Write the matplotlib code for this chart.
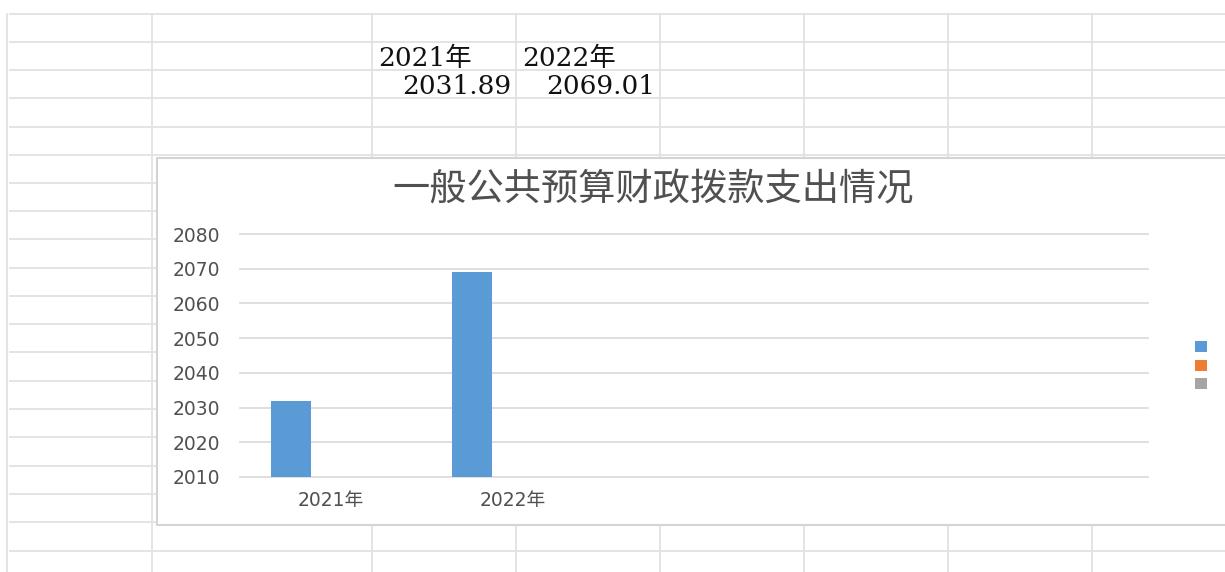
import numpy as np
import matplotlib
matplotlib.use('Agg')
import matplotlib.pyplot as plt
from matplotlib.patches import Rectangle, Patch
from matplotlib.lines import Line2D

# ---------------- data ----------------
categories = ['2021年', '2022年', '', '', '']
series1 = [2031.89, 2069.01, np.nan, np.nan, np.nan]
series2 = [np.nan, np.nan, np.nan, np.nan, np.nan]
series3 = [np.nan, np.nan, np.nan, np.nan, np.nan]
series_colors = ['#5B9BD5', '#ED7D31', '#A5A5A5']
legend_labels = ['', '', '']
yticks = [2010, 2020, 2030, 2040, 2050, 2060, 2070, 2080]
title = '一般公共预算财政拨款支出情况'
cell_headers = ['2021年', '2022年']
cell_values = ['2031.89', '2069.01']

# ---------------- layout helpers ----------------
W, H = 1225, 572
fig = plt.figure(figsize=(W / 100, H / 100), dpi=100)
fig.patch.set_facecolor('white')


def fx(x):
    return x / W


def fy(y):
    return 1 - y / H


grid_col = '#E2E2E2'
# spreadsheet grid
col_x = [7, 152, 372, 516, 660, 804, 948, 1092]
row_y = [14, 42, 70, 98, 127, 155, 183, 211, 239, 268, 296, 324, 352,
         381, 409, 437, 466, 494, 522, 551]
for x in col_x:
    fig.add_artist(Line2D([fx(x), fx(x)], [fy(14), fy(H)], transform=fig.transFigure,
                          color=grid_col, lw=1.3, zorder=1))
for y in row_y:
    fig.add_artist(Line2D([fx(10), fx(W)], [fy(y), fy(y)], transform=fig.transFigure,
                          color=grid_col, lw=1.3, zorder=1))

# cell texts
cell_font = ['DejaVu Serif', 'Noto Sans CJK SC']
for xh, t in zip([378, 522], cell_headers):
    fig.text(fx(xh), fy(58), t, ha='left', va='center', fontsize=19,
             family=cell_font, color='#111111', zorder=1.5)
for xv, t in zip([511, 655], cell_values):
    fig.text(fx(xv), fy(86), t, ha='right', va='center', fontsize=19,
             family=cell_font, color='#111111', zorder=1.5)

# chart container
fig.add_artist(Rectangle((fx(157), fy(525)), fx(1240) - fx(157), (525 - 158) / H,
                         transform=fig.transFigure, facecolor='white',
                         edgecolor='#D4D4D4', lw=1.5, zorder=2))

fig.text(fx(653), fy(190), title, ha='center', va='center', fontsize=26.8,
         family=['Noto Sans CJK SC'], color='#505050', zorder=4)

# ---------------- axes ----------------
ax = fig.add_axes([fx(240), fy(477), (1148 - 240) / W, (477 - 234) / H])
ax.set_zorder(3)
ax.patch.set_facecolor('white')

x = np.arange(len(categories))
w = 0.22
for i, (vals, col) in enumerate(zip([series1, series2, series3], series_colors)):
    ax.bar(x + (i - 1) * w, vals, w, color=col, zorder=3)

ax.set_xlim(-0.5, len(categories) - 0.5)
ax.set_ylim(yticks[0], yticks[-1])
ax.set_yticks(yticks)
ax.set_xticks(x)
ax.set_xticklabels(categories)
for s in ax.spines.values():
    s.set_visible(False)
ax.yaxis.grid(True, color='#D9D9D9', lw=1.2)
ax.set_axisbelow(True)
for gl in ax.get_ygridlines():
    gl.set_clip_on(False)
ax.tick_params(axis='both', length=0, labelcolor='#505050', labelsize=13.5)
ax.tick_params(axis='y', pad=14)
ax.tick_params(axis='x', pad=10)
for lab in ax.get_xticklabels() + ax.get_yticklabels():
    lab.set_family(['DejaVu Sans', 'Noto Sans CJK SC'])

handles = [Patch(facecolor=c, edgecolor='none') for c in series_colors]
leg = fig.legend(handles, legend_labels, loc='center',
                 bbox_to_anchor=(fx(1201), fy(366)), frameon=False,
                 fontsize=9, handlelength=1.0, handleheight=1.0,
                 handletextpad=0.0, labelspacing=0.45, borderpad=0,
                 borderaxespad=0)
leg.set_zorder(5)

fig.savefig('out.png', dpi=100, facecolor='white')
